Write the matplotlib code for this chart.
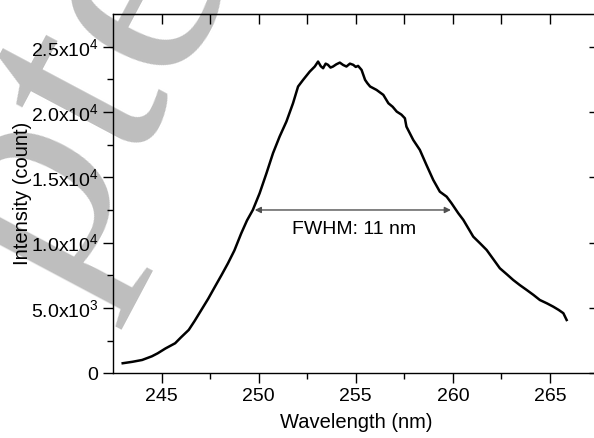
import numpy as np
import matplotlib.pyplot as plt

plt.rcParams['font.family'] = ['Liberation Sans', 'DejaVu Sans']
plt.rcParams['mathtext.default'] = 'regular'

# spectrum
wavelength = [243.0, 243.5, 244.0, 244.5, 244.8, 245.2, 245.7, 246.0, 246.4, 246.7,
              247.05, 247.4, 247.75, 248.1, 248.42, 248.75, 249.1, 249.4, 249.7, 250.05,
              250.4, 250.74, 251.08, 251.43, 251.77, 252.03, 252.29, 252.63, 252.89, 253.06,
              253.2, 253.32, 253.45, 253.57, 253.7, 253.83, 254.0, 254.18, 254.35, 254.52,
              254.7, 254.87, 255.0, 255.12, 255.3, 255.48, 255.6, 255.74, 256.07, 256.42,
              256.68, 256.9, 257.11, 257.35, 257.53, 257.61, 257.96, 258.3, 258.64, 258.99,
              259.33, 259.68, 259.93, 260.28, 260.54, 261.05, 261.4, 261.74, 262.1, 262.42,
              262.8, 263.11, 263.45, 263.8, 264.15, 264.48, 264.85, 265.17, 265.45, 265.69,
              265.86]
intensity = [770, 880, 1020, 1300, 1530, 1900, 2300, 2750, 3320, 4000,
             4850, 5700, 6630, 7550, 8420, 9400, 10700, 11700, 12500, 13780,
             15300, 16850, 18120, 19270, 20670, 21950, 22460, 23090, 23480, 23860,
             23500, 23350, 23700, 23610, 23400, 23480, 23650, 23780, 23600, 23480,
             23700, 23610, 23450, 23530, 23220, 22460, 22200, 21950, 21690, 21310,
             20670, 20400, 20030, 19800, 19520, 18880, 17860, 17100, 15950, 14800,
             13900, 13520, 13020, 12250, 11740, 10460, 9950, 9440, 8700, 8040,
             7550, 7140, 6750, 6380, 6000, 5610, 5350, 5100, 4850, 4600,
             4080]

fwhm_left = 249.8
fwhm_right = 259.9
fwhm_level = 12500

xticks = [245, 250, 255, 260, 265]
yticks = [0, 5000, 10000, 15000, 20000, 25000]
ylabels = ['0', '5.0x10$^{3}$', '1.0x10$^{4}$', '1.5x10$^{4}$', '2.0x10$^{4}$', '2.5x10$^{4}$']

fig = plt.figure(figsize=(5.94, 4.38), dpi=100)
ax = fig.add_axes([113/594, 1-373.3/438, 485.5/594, 359.3/438])
ax.patch.set_facecolor('none')

# grey watermark behind the axes
fig.text(82/594, 1-100/438, 'pte', family='Liberation Serif', fontsize=220,
         color='#bebebe', rotation=62, ha='center', va='center', zorder=-5)

ax.plot(wavelength, intensity, color='k', lw=1.8)

ax.annotate('', xy=(fwhm_left, fwhm_level), xytext=(fwhm_right, fwhm_level),
            arrowprops=dict(arrowstyle='<|-|>', color='#505050', lw=1,
                            mutation_scale=9, shrinkA=0, shrinkB=0))
ax.text(251.7, 11000, 'FWHM: 11 nm', fontsize=14, ha='left', va='center')

ax.set_xlim(242.5, 267.5)
ax.set_ylim(0, 27500)
ax.set_xticks(xticks)
ax.set_xticks(np.arange(247.5, 267.5, 5), minor=True)
ax.set_yticks(yticks)
ax.set_yticklabels(ylabels)
ax.set_yticks(np.arange(2500, 27500, 5000), minor=True)
ax.tick_params(which='major', direction='out', length=7, width=1, labelsize=14)
ax.tick_params(which='minor', direction='out', length=4, width=1)
for s in ax.spines.values():
    s.set_linewidth(1)

top = ax.secondary_xaxis('top')
top.set_xticks(np.arange(245, 267.5, 2.5))
top.tick_params(direction='in', length=7, width=1, labeltop=False)
right = ax.secondary_yaxis('right')
right.set_yticks(yticks)
right.tick_params(direction='in', length=7, width=1, labelright=False)

ax.set_xlabel('Wavelength (nm)', fontsize=14.5, labelpad=6)
ax.set_ylabel('Intensity (count)', fontsize=14.5)
ax.yaxis.set_label_coords((32 - 113) / 485.5, 0.5)

fig.savefig('out.png', dpi=100)
